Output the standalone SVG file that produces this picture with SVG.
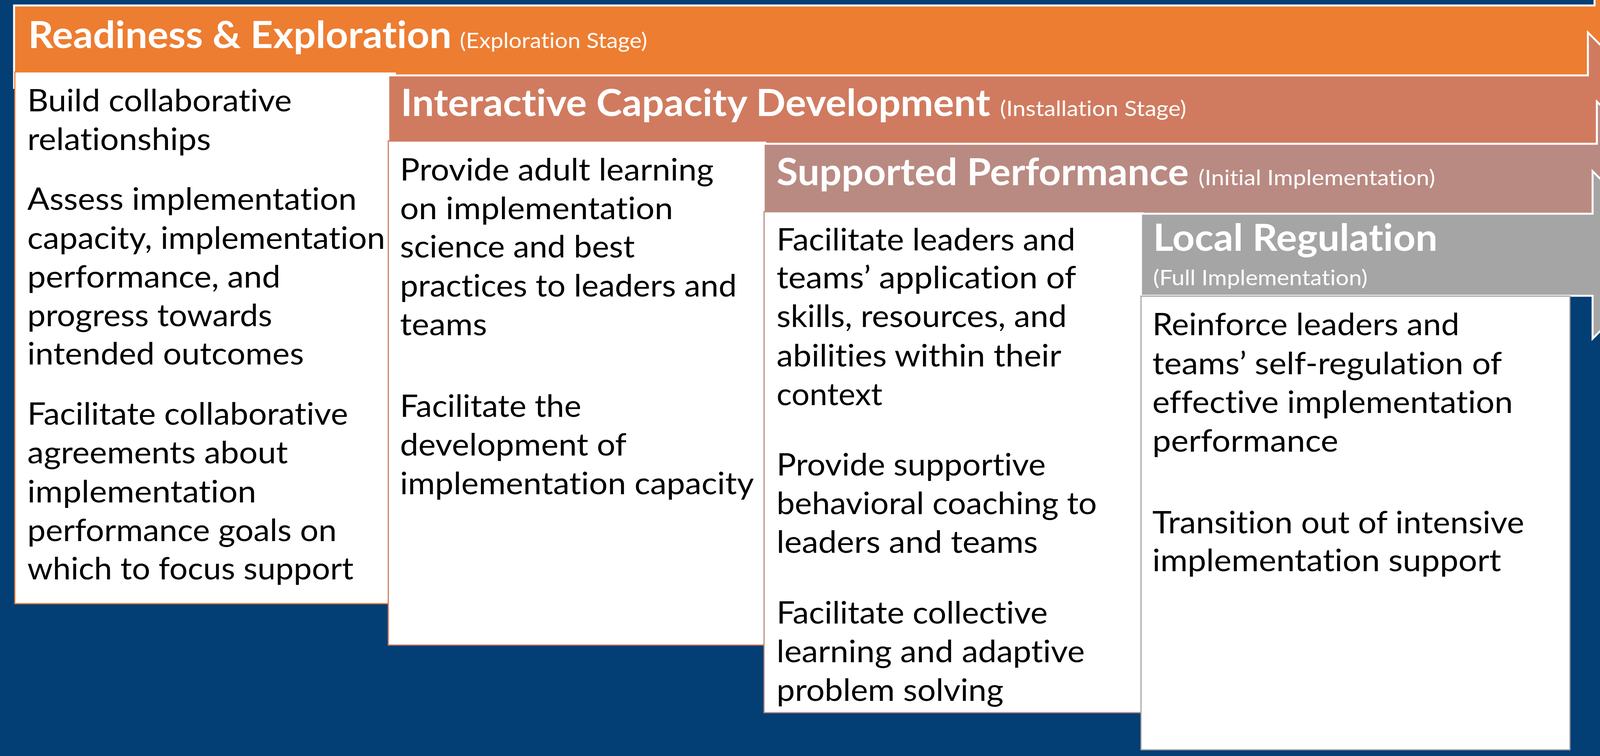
<svg xmlns="http://www.w3.org/2000/svg" width="4329" height="1935" viewBox="0 0 4329 1935">
<style>
.arrow{stroke:#ffffff;stroke-width:5;stroke-linejoin:miter}
.box{fill:#ffffff;stroke-width:3}
text{font-variant-ligatures:none;font-feature-settings:"liga" 0,"clig" 0}
.title{font-family:Lato,"Open Sans","Liberation Sans",sans-serif;font-weight:bold;font-size:96px;fill:#ffffff}
.sub{font-family:Lato,"Open Sans","Liberation Sans",sans-serif;font-size:54px;fill:#ffffff}
.body{font-family:Lato,"Open Sans","Liberation Sans",sans-serif;font-size:80px;fill:#000000}
</style>
<rect x="0" y="0" width="4329" height="1935" fill="#033E74"/>
<g id="connectors"></g>
<g id="stage1">
<polygon class="arrow" fill="#ED7D31" points="36,14 4082,14 4082,-84 4293,119 4082,322 4082,225 36,225"/>
<text class="title" x="72" y="123" textLength="1084" lengthAdjust="spacingAndGlyphs">Readiness &amp; Exploration</text>
<text class="sub" x="1177" y="123" textLength="480" lengthAdjust="spacingAndGlyphs">(Exploration Stage)</text>
<rect class="box" x="38" y="184" width="977" height="1361" stroke="#ED7D31"/>
<g class="body">
<text x="70" y="285" textLength="677" lengthAdjust="spacingAndGlyphs">Build collaborative</text>
<text x="70" y="384" textLength="470" lengthAdjust="spacingAndGlyphs">relationships</text>
<text x="70" y="537" textLength="843" lengthAdjust="spacingAndGlyphs">Assess implementation</text>
<text x="70" y="637" textLength="916" lengthAdjust="spacingAndGlyphs">capacity, implementation</text>
<text x="70" y="736" textLength="648" lengthAdjust="spacingAndGlyphs">performance, and</text>
<text x="70" y="835" textLength="627" lengthAdjust="spacingAndGlyphs">progress towards</text>
<text x="70" y="933" textLength="708" lengthAdjust="spacingAndGlyphs">intended outcomes</text>
<text x="70" y="1087" textLength="821" lengthAdjust="spacingAndGlyphs">Facilitate collaborative</text>
<text x="70" y="1186" textLength="667" lengthAdjust="spacingAndGlyphs">agreements about</text>
<text x="70" y="1286" textLength="586" lengthAdjust="spacingAndGlyphs">implementation</text>
<text x="70" y="1385" textLength="792" lengthAdjust="spacingAndGlyphs">performance goals on</text>
<text x="70" y="1483" textLength="835" lengthAdjust="spacingAndGlyphs">which to focus support</text>
</g>
</g>
<g id="stage2">
<polygon class="arrow" fill="#D07B5F" points="994,193 4065,193 4065,83 4280,299 4065,515 4065,405 994,405"/>
<text class="title" x="1026" y="297" textLength="1509" lengthAdjust="spacingAndGlyphs">Interactive Capacity Development</text>
<text class="sub" x="2560" y="297" textLength="477" lengthAdjust="spacingAndGlyphs">(Installation Stage)</text>
<rect class="box" x="994" y="361" width="969" height="1290" stroke="#D07B5F"/>
<g class="body">
<text x="1024" y="462" textLength="803" lengthAdjust="spacingAndGlyphs">Provide adult learning</text>
<text x="1024" y="561" textLength="699" lengthAdjust="spacingAndGlyphs">on implementation</text>
<text x="1024" y="659" textLength="601" lengthAdjust="spacingAndGlyphs">science and best</text>
<text x="1024" y="759" textLength="862" lengthAdjust="spacingAndGlyphs">practices to leaders and</text>
<text x="1024" y="858" textLength="223" lengthAdjust="spacingAndGlyphs">teams</text>
<text x="1024" y="1067" textLength="464" lengthAdjust="spacingAndGlyphs">Facilitate the</text>
<text x="1024" y="1166" textLength="580" lengthAdjust="spacingAndGlyphs">development of</text>
<text x="1024" y="1265" textLength="906" lengthAdjust="spacingAndGlyphs">implementation capacity</text>
</g>
</g>
<g id="stage3">
<polygon class="arrow" fill="#B98A82" points="1955,368 4088,368 4088,260 4300,475 4088,690 4088,582 1955,582"/>
<text class="title" x="1988" y="474" textLength="1055" lengthAdjust="spacingAndGlyphs">Supported Performance</text>
<text class="sub" x="3068" y="474" textLength="606" lengthAdjust="spacingAndGlyphs">(Initial Implementation)</text>
<rect class="box" x="1956" y="542" width="974" height="1282" stroke="#B98A82"/>
<g class="body">
<text x="1988" y="641" textLength="765" lengthAdjust="spacingAndGlyphs">Facilitate leaders and</text>
<text x="1988" y="738" textLength="767" lengthAdjust="spacingAndGlyphs">teams’ application of</text>
<text x="1988" y="837" textLength="743" lengthAdjust="spacingAndGlyphs">skills, resources, and</text>
<text x="1988" y="938" textLength="729" lengthAdjust="spacingAndGlyphs">abilities within their</text>
<text x="1988" y="1037" textLength="271" lengthAdjust="spacingAndGlyphs">context</text>
<text x="1988" y="1217" textLength="689" lengthAdjust="spacingAndGlyphs">Provide supportive</text>
<text x="1988" y="1316" textLength="820" lengthAdjust="spacingAndGlyphs">behavioral coaching to</text>
<text x="1988" y="1415" textLength="669" lengthAdjust="spacingAndGlyphs">leaders and teams</text>
<text x="1988" y="1596" textLength="694" lengthAdjust="spacingAndGlyphs">Facilitate collective</text>
<text x="1988" y="1695" textLength="789" lengthAdjust="spacingAndGlyphs">learning and adaptive</text>
<text x="1988" y="1794" textLength="581" lengthAdjust="spacingAndGlyphs">problem solving</text>
</g>
</g>
<g id="stage4">
<polygon class="arrow" fill="#A5A5A5" points="2921,547 4077,547 4077,438 4290,652 4077,867 4077,757 2921,757"/>
<text class="title" x="2952" y="642" textLength="728" lengthAdjust="spacingAndGlyphs">Local Regulation</text>
<text class="sub" x="2952" y="730" textLength="549" lengthAdjust="spacingAndGlyphs">(Full Implementation)</text>
<rect class="box" x="2921" y="758" width="1098" height="1161" stroke="#A5A5A5"/>
<g class="body">
<text x="2950" y="858" textLength="786" lengthAdjust="spacingAndGlyphs">Reinforce leaders and</text>
<text x="2950" y="958" textLength="895" lengthAdjust="spacingAndGlyphs">teams’ self-regulation of</text>
<text x="2950" y="1057" textLength="923" lengthAdjust="spacingAndGlyphs">effective implementation</text>
<text x="2950" y="1156" textLength="476" lengthAdjust="spacingAndGlyphs">performance</text>
<text x="2950" y="1365" textLength="952" lengthAdjust="spacingAndGlyphs">Transition out of intensive</text>
<text x="2950" y="1462" textLength="893" lengthAdjust="spacingAndGlyphs">implementation support</text>
</g>
</g>
</svg>
